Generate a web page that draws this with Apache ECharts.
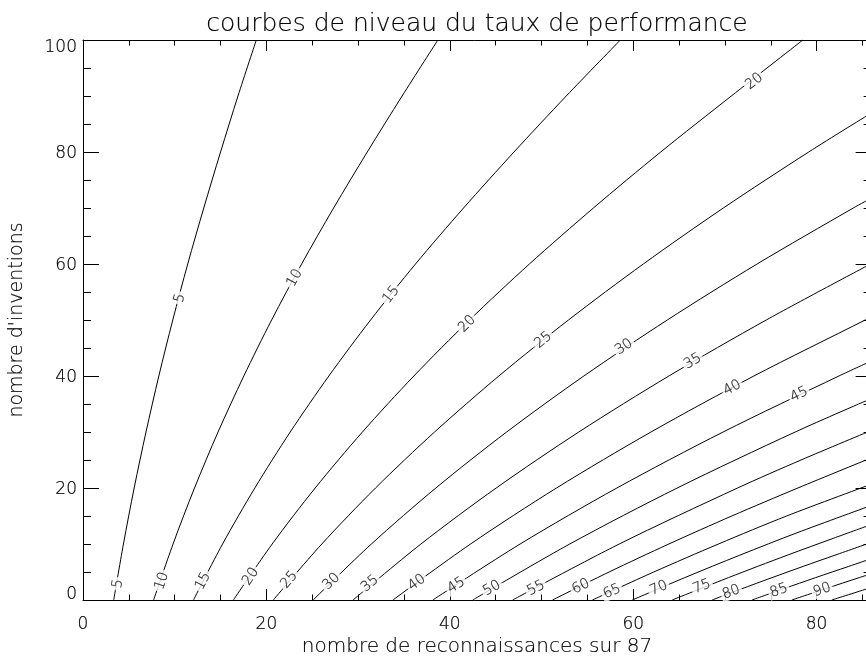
<!DOCTYPE html>
<html>
<head>
<meta charset="utf-8">
<script src="https://cdn.jsdelivr.net/npm/echarts@6/dist/echarts.min.js"></script>
<style>html,body{margin:0;padding:0;background:#fff}#c{width:866px;height:656px}</style>
</head>
<body>
<div id="c"></div>
<script>
// ---- data: [reconnaissances, inventions] points on each level curve ----
const contourLevels = [5,10,15,20,25,30,35,40,45,50,55,60,65,70,75,80,85,90,95];
const contour05 = [[3.35,0],[4.41,10],[5.58,20],[6.87,30],[8.27,40],[9.79,50],[11.42,60],[13.17,70],[15.0,80],[16.9,90],[18.9,100]];
const contour10 = [[7.7,0],[9.82,10],[12.16,20],[14.73,30],[17.54,40],[20.57,50],[23.84,60],[27.33,70],[31.0,80],[34.8,90],[38.7,100]];
const contour15 = [[12.05,0],[15.22,10],[18.74,20],[22.6,30],[26.81,40],[31.36,50],[36.26,60],[41.5,70],[47.0,80],[52.7,90],[58.6,100]];
const contour20 = [[16.4,0],[20.63,10],[25.32,20],[30.47,30],[36.08,40],[42.15,50],[48.68,60],[55.66,70],[63.0,80],[70.7,90],[78.5,100]];
const contour25 = [[20.75,0],[26.04,10],[31.9,20],[38.34,30],[45.35,40],[52.94,50],[61.1,60],[69.83,70],[79.14,80],[86,87]];
const contour30 = [[25.1,0],[31.45,10],[38.48,20],[46.2,30],[54.62,40],[63.72,50],[73.51,60],[84.0,70],[86,71.8]];
const contour35 = [[29.45,0],[36.85,10],[45.06,20],[54.07,30],[63.89,40],[74.51,50],[86,60.1]];
const contour40 = [[33.8,0],[42.26,10],[51.64,20],[61.94,30],[73.16,40],[85.3,50],[86,50.6]];
const contour45 = [[38.15,0],[47.67,10],[58.22,20],[69.8,30],[82.43,40],[86,42.7]];
const contour50 = [[42.5,0],[53.08,10],[64.8,20],[77.67,30],[86,36.0]];
const contour55 = [[46.85,0],[58.48,10],[71.38,20],[78.3,25],[86,30.3]];
const contour60 = [[51.2,0],[57.37,5],[63.89,10],[70.75,15],[77.96,20],[86,25.4]];
const contour65 = [[55.55,0],[62.24,5],[69.3,10],[76.73,15],[86,20.7]];
const contour70 = [[59.9,0],[65.63,4],[71.62,8],[77.86,12],[86,16.9]];
const contour75 = [[64.25,0],[70.39,4],[76.8,8],[81.8,11],[86,13.5]];
const contour80 = [[68.6,0],[73.48,3],[78.53,6],[82.0,8],[86,10.3]];
const contour85 = [[72.95,0],[76.39,2],[79.9,4],[83.5,6],[86,7.4]];
const contour90 = [[77.3,0],[80.94,2],[84.66,4],[86,4.7]];
const contour95 = [[81.65,0],[85.5,2],[86,2.3]];
const contourLines = [contour05,contour10,contour15,contour20,contour25,contour30,contour35,contour40,contour45,contour50,contour55,contour60,contour65,contour70,contour75,contour80,contour85,contour90,contour95];

// labels placed on the curves
const bottomLabelLevels = [5,10,15,20,25,30,35,40,45,50,55,60,65,70,75,80,85,90];
const bottomLabelX = [3.8,8.6,13.1,18.3,22.5,27.1,31.3,36.4,40.7,44.6,49.4,54.3,57.7,62.8,67.5,70.7,75.9,80.6];
const bottomLabelY = [2.9,3.4,3.4,4.2,3.6,3.3,2.9,3.1,2.6,2.1,2.1,2.4,1.5,2.1,2.4,1.4,1.7,1.8];
const midLabelLevels = [5,10,15,20,25,30,35,40,45,20];
const midLabelX = [10.57,23.1,33.6,41.9,50.2,59.0,66.5,70.8,78.1,73.2];
const midLabelY = [53.9,57.5,54.5,49.3,46.4,45.2,42.6,37.9,36.7,92.6];

const xTickLabels = [0,20,40,60,80];
const yTickLabels = [0,20,40,60,80,100];

// ---- chart ----
const FONT = '"DejaVu Sans", "Liberation Sans", sans-serif';
const FW = 200;
const chart = echarts.init(document.getElementById('c'));

const txt = (size, bw) => ({ fontSize: size, fontFamily: FONT, fontWeight: FW, color: '#000', textBorderColor: '#000', textBorderWidth: bw });

function axisCommon(isX, showLabel, pos) {
  return {
    type: 'value', position: pos, min: 0, max: 100, interval: 20,
    axisLine: { show: true, onZero: false, lineStyle: { color: '#000', width: 1 } },
    axisTick: { show: true, inside: true, length: isX ? 11 : 16, lineStyle: { color: '#000', width: 1 } },
    minorTick: { show: true, splitNumber: 4, length: isX ? 5.5 : 8, lineStyle: { color: '#000', width: 1 } },
    splitLine: { show: false }, minorSplitLine: { show: false },
    axisLabel: { show: showLabel }
  };
}

const xBottom = axisCommon(true, true, 'bottom');
xBottom.axisLabel = Object.assign({
  show: true, margin: 16,
  formatter: v => xTickLabels.indexOf(v) >= 0 ? String(v) : ''
}, txt(17, 0.2));
const xTop = axisCommon(true, false, 'top');
const yLeft = axisCommon(false, true, 'left');
yLeft.axisLabel = Object.assign({
  show: true, margin: 6,
  formatter: v => {
    if (yTickLabels.indexOf(v) < 0) return '';
    if (v === 100) return '{t|' + v + '}';
    if (v === 0) return '{b|' + v + '}';
    return '{n|' + v + '}';
  },
  rich: {
    t: Object.assign({ padding: [16, 0, 0, 0] }, txt(17, 0.2)),
    b: Object.assign({ padding: [0, 0, 10, 0] }, txt(17, 0.2)),
    n: Object.assign({ padding: [4, 0, 0, 0] }, txt(17, 0.2))
  }
}, txt(17, 0.2));
yLeft.name = "nombre d'inventions";
yLeft.nameLocation = 'middle';
yLeft.nameGap = 56;
yLeft.nameRotate = 90;
yLeft.nameTextStyle = txt(19, 0.15);
const yRight = axisCommon(false, false, 'right');
yRight.offset = -128.4;

const lineSeries = contourLines.map((pts, i) => ({
  type: 'line', name: 'niveau ' + contourLevels[i], data: pts,
  xAxisIndex: 0, yAxisIndex: 0,
  showSymbol: false, symbol: 'none', smooth: 0.3, clip: true, silent: true,
  lineStyle: { color: '#000', width: 1 }, z: 2
}));

function labelItems(levels, xs, ys) {
  return levels.map((l, i) => ({ value: [xs[i], ys[i]], level: l }));
}
const allLabels = labelItems(bottomLabelLevels, bottomLabelX, bottomLabelY)
  .concat(labelItems(midLabelLevels, midLabelX, midLabelY));

const baseOption = {
  animation: false,
  backgroundColor: '#fff',
  title: [
    { text: 'courbes de niveau du taux de performance', left: 477, textAlign: 'center', top: 12, padding: 0,
      textStyle: txt(25, 0.15) },
    { text: 'nombre de reconnaissances sur 87', left: 477, textAlign: 'center', top: 637, padding: 0,
      textStyle: txt(20, 0.15) }
  ],
  grid: { left: 83, top: 40, right: -134, bottom: 56, outerBoundsMode: 'none', containLabel: false },
  xAxis: [xBottom, xTop],
  yAxis: [yLeft, yRight],
  series: lineSeries
};
chart.setOption(baseOption);

// label rotation follows the local direction of its curve (in pixels)
function angleFor(level, x, y) {
  const pts = contourLines[contourLevels.indexOf(level)].map(p => chart.convertToPixel({ seriesIndex: 0 }, p));
  const q = chart.convertToPixel({ seriesIndex: 0 }, [x, y]);
  let best = 0, bd = Infinity;
  for (let i = 0; i < pts.length - 1; i++) {
    const a = pts[i], b = pts[i + 1];
    const dx = b[0] - a[0], dy = b[1] - a[1];
    let t = ((q[0] - a[0]) * dx + (q[1] - a[1]) * dy) / (dx * dx + dy * dy);
    t = Math.max(0, Math.min(1, t));
    const px = a[0] + t * dx - q[0], py = a[1] + t * dy - q[1];
    const d = px * px + py * py;
    if (d < bd) { bd = d; best = Math.atan2(a[1] - b[1], b[0] - a[0]) * 180 / Math.PI; }
  }
  return best;
}

const labelData = allLabels.map(it => ({
  value: it.value,
  label: { formatter: String(it.level), rotate: angleFor(it.level, it.value[0], it.value[1]) }
}));

chart.setOption({
  series: lineSeries.concat([{
    type: 'scatter', data: labelData, symbolSize: 0, silent: true, z: 5,
    xAxisIndex: 0, yAxisIndex: 0,
    label: Object.assign({
      show: true, position: 'inside',
      backgroundColor: '#fff', padding: [0, 2, 0, 2]
    }, txt(14, 0.25))
  }])
});
</script>
</body>
</html>
